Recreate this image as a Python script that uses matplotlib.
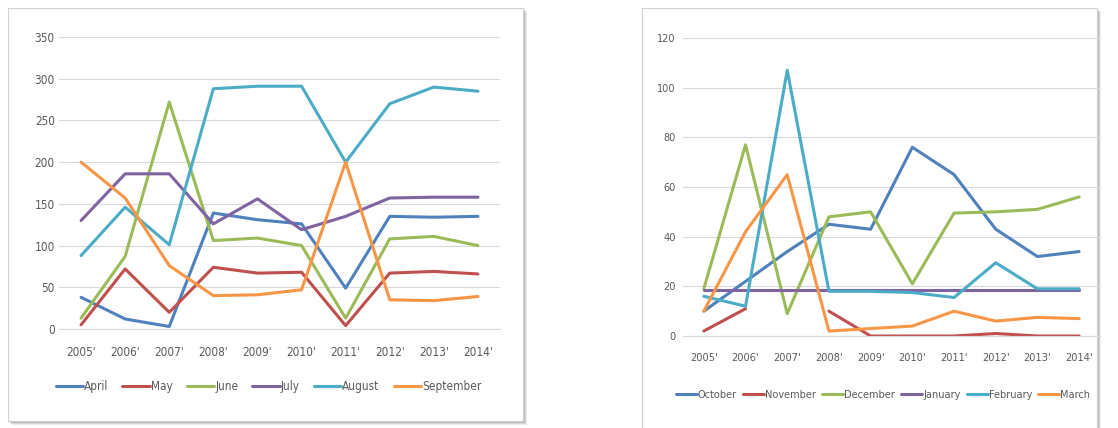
import matplotlib.pyplot as plt
from matplotlib.patches import Rectangle

plt.rcParams['font.family'] = ['Liberation Sans Narrow', 'DejaVu Sans']
plt.rcParams['font.stretch'] = 'condensed'

years = ["2005'", "2006'", "2007'", "2008'", "2009'", "2010'", "2011'", "2012'", "2013'", "2014'"]

# left chart: April - September
april = [38, 12, 3, 139, 131, 126, 49, 135, 134, 135]
may = [5, 72, 20, 74, 67, 68, 4, 67, 69, 66]
june = [13, 87, 272, 106, 109, 100, 13, 108, 111, 100]
july = [130, 186, 186, 126, 156, 119, 135, 157, 158, 158]
august = [88, 146, 101, 288, 291, 291, 200, 270, 290, 285]
september = [200, 157, 76, 40, 41, 47, 200, 35, 34, 39]

# right chart: October - March (None = gap)
october = [10, 22, 34, 45, 43, 76, 65, 43, 32, 34]
november = [2, 11, None, 10, 0, 0, 0, 1, 0, 0]
december = [19, 77, 9, 48, 50, 21, 49.5, 50, 51, 56]
january = [18.5, 18.5, 18.5, 18.5, 18.5, 18.5, 18.5, 18.5, 18.5, 18.5]
february = [16, 12, 107, 18, 18, 17.5, 15.5, 29.5, 19, 19]
march = [10, 42, 65, 2, 3, 4, 10, 6, 7.5, 7]

colors = ['#4F81BD', '#C0504D', '#9BBB59', '#8064A2', '#4BACC6', '#F79646']

left_series = [('April', april), ('May', may), ('June', june),
               ('July', july), ('August', august), ('September', september)]
right_series = [('October', october), ('November', november), ('December', december),
                ('January', january), ('February', february), ('March', march)]

W, H = 1118, 428
fig = plt.figure(figsize=(W / 100, H / 100), dpi=100)
fig.patch.set_facecolor('white')


def frame(x0, y0, x1, y1):
    # shadow then white box, in pixel coords (top-left origin)
    for off, a in [(4, 0.15), (3, 0.2), (2, 0.3)]:
        fig.patches.append(Rectangle(((x0 + off) / W, 1 - (y1 + off) / H), (x1 - x0) / W, (y1 - y0) / H,
                                     transform=fig.transFigure, facecolor='#808080', alpha=a,
                                     edgecolor='none', zorder=0))
    fig.patches.append(Rectangle((x0 / W, 1 - y1 / H), (x1 - x0) / W, (y1 - y0) / H,
                                 transform=fig.transFigure, facecolor='white',
                                 edgecolor='#d0d0d0', linewidth=0.8, zorder=0.5))


frame(8, 8, 523, 421)
frame(642, 8, 1097, 432)


def draw(rect, series, ymax, ystep, fs, ypad, hl, cs, lx):
    ax = fig.add_axes(rect, zorder=2)
    ax.set_facecolor('none')
    x = list(range(len(years)))
    for (name, vals), c in zip(series, colors):
        ys = [float('nan') if v is None else v for v in vals]
        ax.plot(x, ys, color=c, linewidth=2.2, label=name, solid_capstyle='round')
    ax.set_xlim(-0.5, len(years) - 0.5)
    ax.set_ylim(0, ymax)
    ax.set_yticks(range(0, ymax + 1, ystep))
    ax.set_xticks(x)
    ax.set_xticklabels(years)
    ax.yaxis.grid(True, color='#d9d9d9', linewidth=0.8)
    ax.set_axisbelow(True)
    for s in ax.spines.values():
        s.set_visible(False)
    ax.spines['bottom'].set_visible(True)
    ax.spines['bottom'].set_color('#d9d9d9')
    ax.tick_params(length=0, colors='#595959', labelsize=fs)
    ax.tick_params(axis='y', pad=ypad)
    ax.tick_params(axis='x', pad=12)
    ax.legend(loc='center', bbox_to_anchor=(lx, -0.198), ncol=6, frameon=False,
              fontsize=fs, handlelength=hl, columnspacing=cs, handletextpad=0.1,
              labelcolor='#595959')
    return ax


draw([59 / W, 1 - 329 / H, (500 - 59) / W, (329 - 37) / H], left_series, 350, 50, 8.5, 3, 2.3, 1.2, 0.475)
draw([683 / W, 1 - 336 / H, (1100 - 683) / W, (336 - 38) / H], right_series, 120, 20, 7.8, 5, 1.9, 0.6, 0.48)

fig.savefig('out.png', dpi=100)
